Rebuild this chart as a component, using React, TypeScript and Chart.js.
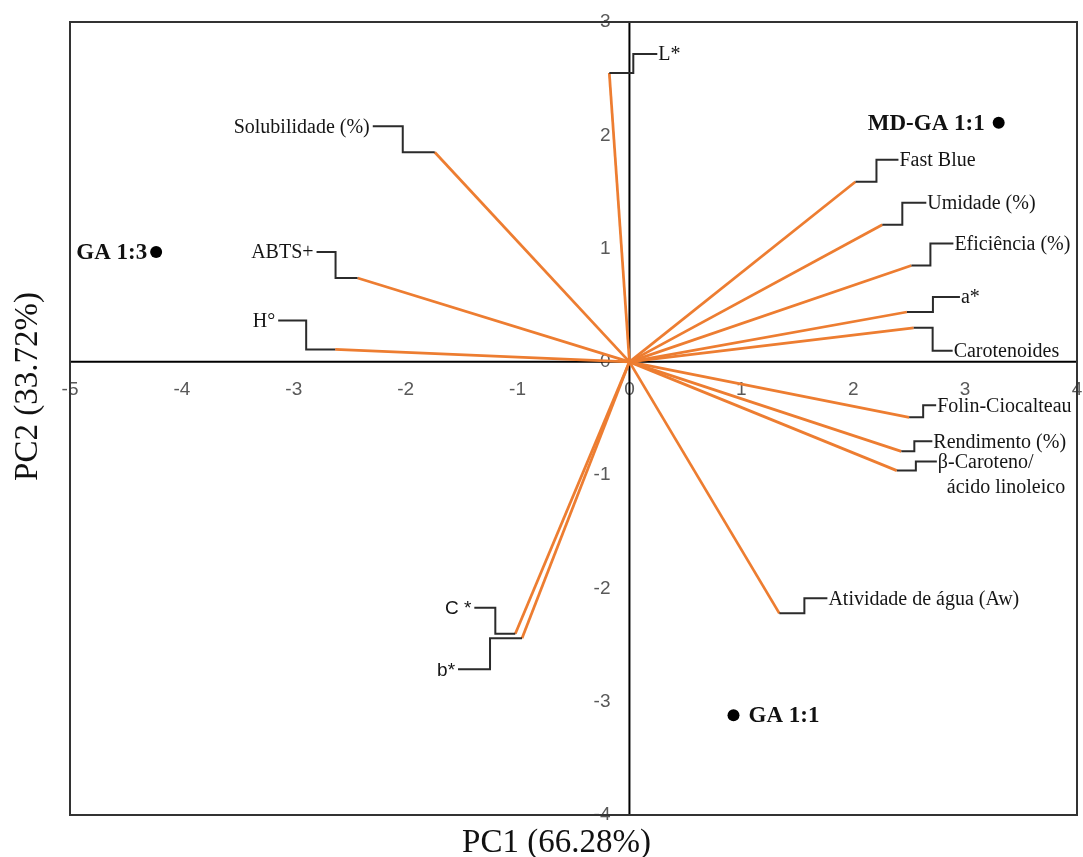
import React, { useEffect, useRef } from 'react';
import { Chart, registerables } from 'chart.js';

Chart.register(...registerables);

// ---------- data ----------
const variableNames = [
  'L*',
  'Solubilidade (%)',
  'ABTS+',
  'H°',
  'Fast Blue',
  'Umidade (%)',
  'Eficiência (%)',
  'a*',
  'Carotenoides',
  'Folin-Ciocalteau',
  'Rendimento (%)',
  'β-Caroteno/\nácido linoleico',
  'C *',
  'b*',
  'Atividade de água (Aw)',
];
const loadingsPC1 = [-0.18, -1.74, -2.43, -2.63, 2.02, 2.26, 2.52, 2.48, 2.54, 2.5, 2.43, 2.39, -1.02, -0.96, 1.34];
const loadingsPC2 = [2.55, 1.85, 0.74, 0.11, 1.59, 1.21, 0.85, 0.44, 0.3, -0.49, -0.79, -0.96, -2.4, -2.44, -2.22];

const sampleNames = ['GA 1:3', 'MD-GA 1:1', 'GA 1:1'];
const scoresPC1 = [-4.23, 3.3, 0.93];
const scoresPC2 = [0.97, 2.11, -3.12];

const xTickValues = [-5, -4, -3, -2, -1, 0, 1, 2, 3, 4];
const yTickValues = [-4, -3, -2, -1, 0, 1, 2, 3];
const xAxisTitle = 'PC1 (66.28%)';
const yAxisTitle = 'PC2 (33.72%)';

// ---------- label layout (pixel offsets relative to each vector tip) ----------
// [elbowDx, labelDy, tailDx]
const leaderOffsets = [
  [24, -19, 48],
  [-32, -26, -62],
  [-22, -26, -41],
  [-29, -29, -57],
  [21, -22, 43],
  [20, -22, 44],
  [19, -22, 42],
  [26, -15, 53],
  [19, 23, 39],
  [14, -12, 27],
  [13, -10, 31],
  [19, -9, 40],
  [-20, -26, -41],
  [-32, 31, -64],
  [25, -15, 48],
];
const sansLabels = ['C *', 'b*'];
const sampleLabelDx = [-9, -14, 15];

const ORANGE = '#ED7D31';
const SERIF = '"Liberation Serif", "Times New Roman", serif';
const SANS = '"Liberation Sans", Arial, sans-serif';

const biplotPlugin = {
  id: 'biplotDecor',
  beforeDatasetsDraw(chart: any) {
    const { ctx, chartArea: a, scales } = chart;
    const xs = scales.x;
    const ys = scales.y;
    const x0 = xs.getPixelForValue(0);
    const y0 = ys.getPixelForValue(0);
    ctx.save();
    // tick labels
    ctx.fillStyle = '#595959';
    ctx.font = `19px ${SANS}`;
    ctx.textAlign = 'center';
    ctx.textBaseline = 'middle';
    xTickValues.forEach((v) => ctx.fillText(String(v), xs.getPixelForValue(v), y0 + 28));
    ctx.textAlign = 'right';
    yTickValues.forEach((v) => ctx.fillText(String(v), x0 - 19, ys.getPixelForValue(v)));
    // axes through the origin
    ctx.strokeStyle = '#000';
    ctx.lineWidth = 2;
    ctx.beginPath();
    ctx.moveTo(a.left, y0);
    ctx.lineTo(a.right, y0);
    ctx.moveTo(x0, a.top);
    ctx.lineTo(x0, a.bottom);
    ctx.stroke();
    // frame
    ctx.strokeStyle = '#333';
    ctx.strokeRect(a.left, a.top, a.right - a.left, a.bottom - a.top);
    ctx.restore();
  },
  afterDatasetsDraw(chart: any) {
    const { ctx, chartArea: a, scales } = chart;
    const xs = scales.x;
    const ys = scales.y;
    ctx.save();
    // leader lines + variable labels
    variableNames.forEach((name, i) => {
      const px = xs.getPixelForValue(loadingsPC1[i]);
      const py = ys.getPixelForValue(loadingsPC2[i]);
      const [ex, dy, tx] = leaderOffsets[i];
      ctx.strokeStyle = '#2b2b2b';
      ctx.lineWidth = 2;
      ctx.beginPath();
      ctx.moveTo(px, py);
      ctx.lineTo(px + ex, py);
      ctx.lineTo(px + ex, py + dy);
      ctx.lineTo(px + tx, py + dy);
      ctx.stroke();
      const isSans = sansLabels.includes(name);
      ctx.font = isSans ? `19px ${SANS}` : `20px ${SERIF}`;
      ctx.fillStyle = '#151515';
      ctx.textBaseline = 'middle';
      const lines = name.split('\n');
      lines.forEach((line, k) => {
        if (tx < 0) {
          ctx.textAlign = 'right';
          ctx.fillText(line, px + tx - 3, py + dy + 1 + k * 25);
        } else {
          ctx.textAlign = 'left';
          ctx.fillText(line, px + tx + 1 + k * 9, py + dy + 1 + k * 25);
        }
      });
    });
    // sample labels
    ctx.font = `bold 23px ${SERIF}`;
    ctx.fillStyle = '#111';
    ctx.textBaseline = 'middle';
    sampleNames.forEach((name, i) => {
      const px = xs.getPixelForValue(scoresPC1[i]);
      const py = ys.getPixelForValue(scoresPC2[i]);
      const dx = sampleLabelDx[i];
      ctx.textAlign = dx < 0 ? 'right' : 'left';
      ctx.fillText(name, px + dx, py + 1);
    });
    // axis titles
    ctx.font = `33px ${SERIF}`;
    ctx.fillStyle = '#111';
    ctx.textAlign = 'center';
    ctx.textBaseline = 'middle';
    ctx.fillText(xAxisTitle, (a.left + a.right) / 2 - 17, a.bottom + 28);
    ctx.save();
    ctx.translate(a.left - 42, (a.top + a.bottom) / 2 - 32);
    ctx.rotate(-Math.PI / 2);
    ctx.fillText(yAxisTitle, 0, 0);
    ctx.restore();
    ctx.restore();
  },
};

export default function App() {
  const canvasRef = useRef<HTMLCanvasElement | null>(null);

  useEffect(() => {
    const canvas = canvasRef.current;
    if (!canvas) return;
    const vectorDatasets = variableNames.map((name, i) => ({
      label: name,
      data: [
        { x: 0, y: 0 },
        { x: loadingsPC1[i], y: loadingsPC2[i] },
      ],
      showLine: true,
      borderColor: ORANGE,
      backgroundColor: ORANGE,
      borderWidth: 2.75,
      pointRadius: 0,
      fill: false,
      order: 2,
    }));
    const scoreDataset = {
      label: 'Amostras',
      data: sampleNames.map((_, i) => ({ x: scoresPC1[i], y: scoresPC2[i] })),
      showLine: false,
      pointRadius: 6,
      pointBackgroundColor: '#000',
      pointBorderWidth: 0,
      backgroundColor: '#000',
      borderColor: '#000',
      order: 1,
    };
    const chart = new Chart(canvas, {
      type: 'scatter',
      data: { datasets: [...vectorDatasets, scoreDataset] as any },
      options: {
        animation: false,
        responsive: false,
        devicePixelRatio: 1,
        layout: { padding: { left: 70, top: 22, right: 2, bottom: 42 } },
        plugins: { legend: { display: false }, tooltip: { enabled: false } },
        scales: {
          x: { type: 'linear', min: -5, max: 4, display: false },
          y: { type: 'linear', min: -4, max: 3, display: false },
        },
      } as any,
      plugins: [biplotPlugin],
    });
    return () => chart.destroy();
  }, []);

  return (
    <div style={{ position: 'absolute', left: 0, top: 0, width: 1083, height: 857, background: '#fff' }}>
      <canvas ref={canvasRef} width={1083} height={857} style={{ display: 'block' }} />
    </div>
  );
}
